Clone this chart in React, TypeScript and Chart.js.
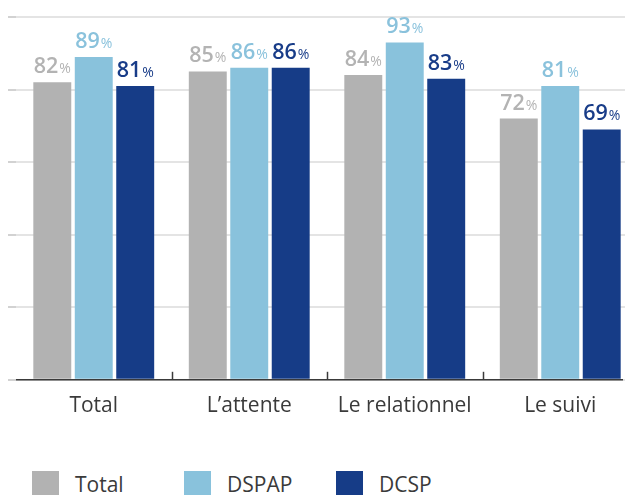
import React, { useEffect, useRef } from "react";
import { Chart, registerables } from "chart.js";

Chart.register(...registerables);

const categories = ["Total", "L’attente", "Le relationnel", "Le suivi"];
const seriesNames = ["Total", "DSPAP", "DCSP"];
const totalValues = [82, 85, 84, 72];
const dspapValues = [89, 86, 93, 81];
const dcspValues = [81, 86, 83, 69];
const yTicks = [0, 20, 40, 60, 80, 100];

const barColors = ["#b2b2b2", "#89c2dc", "#163c87"];
const labelColors = ["#b3b3b3", "#8ac2dc", "#183c88"];
const FONT = "'Open Sans', sans-serif";
const TEXT = "#3a3a3a";

const decorPlugin = {
  id: "decor",
  afterDatasetsDraw(chart: any) {
    const ctx = chart.ctx as CanvasRenderingContext2D;
    const { left, right, bottom } = chart.chartArea;
    const xs = chart.scales.x;
    ctx.save();
    ctx.strokeStyle = TEXT;
    ctx.lineWidth = 1.5;
    ctx.beginPath();
    ctx.moveTo(left, bottom);
    ctx.lineTo(right - 15, bottom);
    ctx.stroke();
    for (let i = 1; i < categories.length; i++) {
      const px = Math.round((xs.getPixelForValue(i - 1) + xs.getPixelForValue(i)) / 2) + 0.5;
      ctx.beginPath();
      ctx.moveTo(px, bottom - 8);
      ctx.lineTo(px, bottom);
      ctx.stroke();
    }
    chart.data.datasets.forEach((ds: any, di: number) => {
      const meta = chart.getDatasetMeta(di);
      meta.data.forEach((bar: any, i: number) => {
        const num = String(ds.data[i]);
        ctx.font = `600 21.5px ${FONT}`;
        const w1 = ctx.measureText(num).width;
        ctx.font = `400 14px ${FONT}`;
        const w2 = ctx.measureText("%").width;
        const start = bar.x - (w1 + w2 + 1) / 2;
        const y = bar.y - 9;
        ctx.fillStyle = labelColors[di];
        ctx.textAlign = "left";
        ctx.textBaseline = "alphabetic";
        ctx.font = `600 21.5px ${FONT}`;
        ctx.fillText(num, start, y);
        ctx.font = `400 14px ${FONT}`;
        ctx.fillText("%", start + w1 + 1, y);
      });
    });
    ctx.restore();
  },
};

export default function App() {
  const ref = useRef<HTMLCanvasElement | null>(null);

  useEffect(() => {
    document.documentElement.style.overflow = "hidden";
    document.body.style.overflow = "hidden";
    if (!ref.current) return;
    const values = [totalValues, dspapValues, dcspValues];
    const chart = new Chart(ref.current, {
      type: "bar",
      data: {
        labels: categories,
        datasets: seriesNames.map((name, i) => ({
          label: name,
          data: values[i],
          backgroundColor: barColors[i],
          borderWidth: 0,
          barPercentage: 0.915,
          categoryPercentage: 0.8,
        })),
      },
      options: {
        animation: false,
        responsive: false,
        devicePixelRatio: 1,
        layout: { padding: { top: 9, bottom: 11, left: 0, right: 0 } },
        plugins: {
          legend: { display: false },
          tooltip: { enabled: false },
        },
        scales: {
          x: {
            offset: true,
            grid: { display: false, drawTicks: false },
            border: { display: false },
            ticks: {
              color: TEXT,
              font: { family: FONT, size: 21 },
              padding: 14,
            },
          },
          y: {
            min: 0,
            max: 100,
            afterBuildTicks: (axis: any) => {
              axis.ticks = yTicks.map((v) => ({ value: v }));
            },
            ticks: { display: false },
            grid: {
              color: "#e4e4e4",
              lineWidth: 2,
              tickLength: 8,
              tickColor: "#d2d2d2",
            },
            border: { display: false },
          },
        },
      },
      plugins: [decorPlugin],
    });
    return () => chart.destroy();
  }, []);

  return (
    <div style={{ width: 625, height: 487, overflow: "hidden", fontFamily: FONT }}>
      <div style={{ width: 630, height: 436 }}>
        <canvas ref={ref} width={630} height={436} style={{ display: "block" }} />
      </div>
      <div style={{ display: "flex", marginTop: 27, paddingLeft: 24 }}>
        {seriesNames.map((name, i) => (
          <div key={name} style={{ width: 152, display: "flex", alignItems: "center", flexShrink: 0 }}>
            <div style={{ width: 27, height: 27, background: barColors[i], marginRight: 16, flexShrink: 0 }} />
            <span style={{ fontSize: 21, color: TEXT, lineHeight: "27px" }}>{name}</span>
          </div>
        ))}
      </div>
    </div>
  );
}
